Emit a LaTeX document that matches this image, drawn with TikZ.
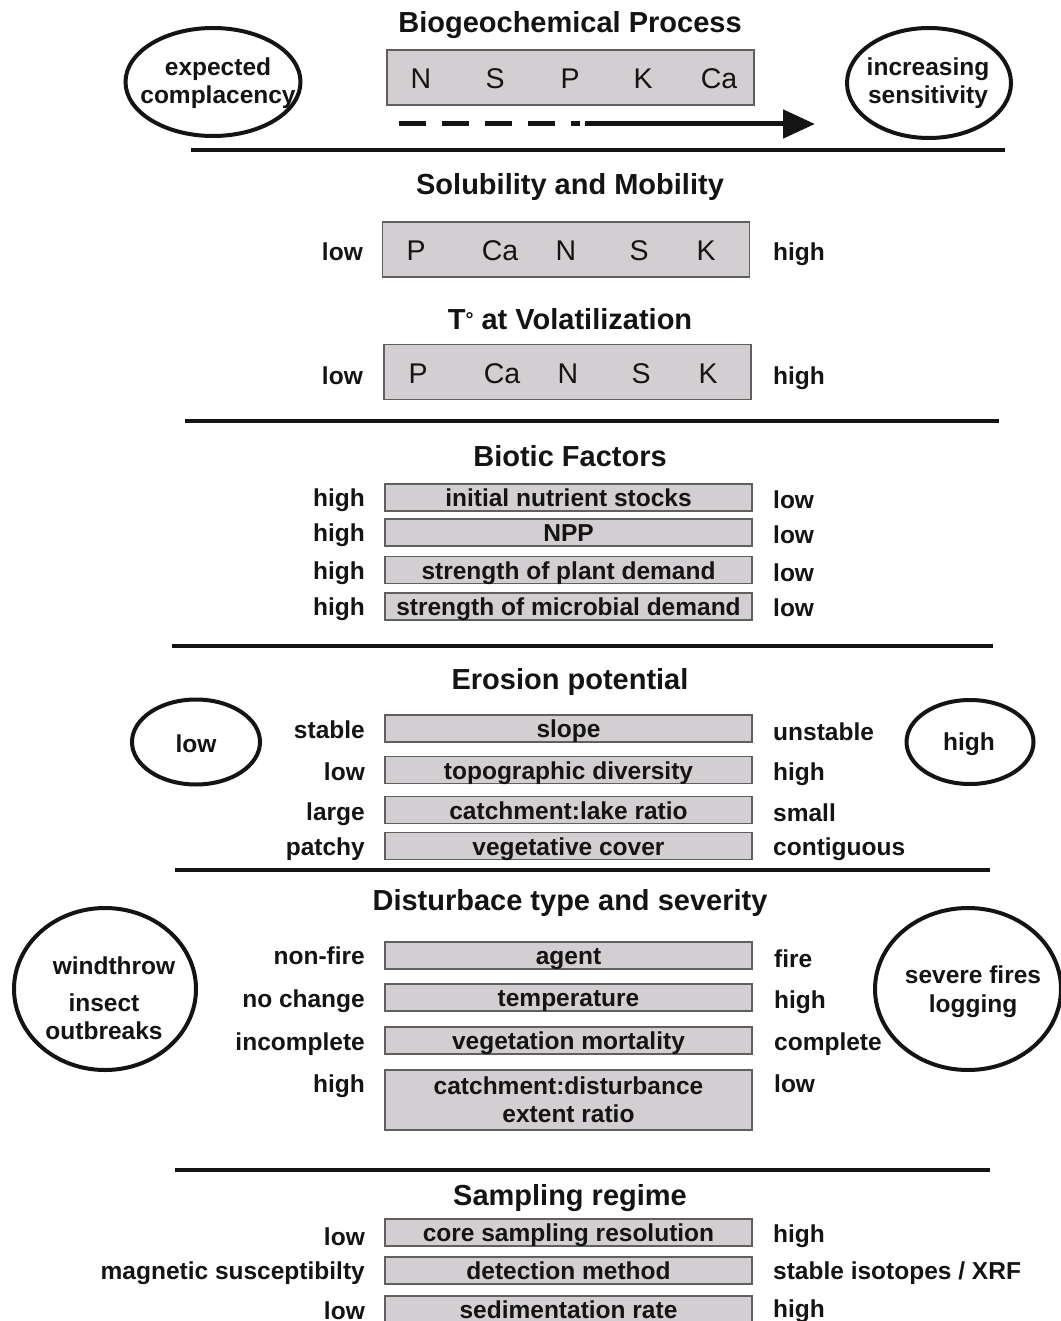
\documentclass[tikz,border=0pt]{standalone}
\usepackage{fontspec}
\setmainfont{Liberation Sans}
\usetikzlibrary{arrows.meta,shapes.geometric}
\definecolor{boxfill}{RGB}{211,206,209}
\definecolor{boxline}{RGB}{95,95,95}
\definecolor{ink}{RGB}{20,20,20}
\begin{document}
\begin{tikzpicture}[x=1pt,y=-1pt,
  lab/.style={font=\bfseries\fontsize{24.5}{29}\selectfont, inner sep=0pt, text height=22pt, text depth=4pt, text=ink},
  L/.style={lab, anchor=east},
  R/.style={lab, anchor=west},
  bar/.style={lab, draw=boxline, fill=boxfill, line width=1.3pt, minimum width=367pt, minimum height=27pt},
  bartwo/.style={font=\bfseries\fontsize{24.5}{28}\selectfont, inner sep=0pt, text=ink, align=center, draw=boxline, fill=boxfill, line width=1.3pt, minimum width=367pt, minimum height=60pt},
  elbox/.style={draw=boxline, fill=boxfill, line width=1.3pt, minimum width=367pt, minimum height=55pt, inner sep=0pt},
  elem/.style={font=\fontsize{28.5}{34}\selectfont, inner sep=0pt, text height=20.4pt, text depth=0pt, text=ink},
  ttl/.style={font=\bfseries\fontsize{29}{34}\selectfont, inner sep=0pt, anchor=base, text=ink},
  rule/.style={line width=4.5pt, draw=ink},
  oval/.style={draw=ink, ellipse, line width=4pt, inner sep=0pt},
  ovtext/.style={font=\bfseries\fontsize{24.5}{28}\selectfont, align=center, inner sep=0pt, text=ink}
]
\useasboundingbox[fill=white] (0,0) rectangle (1060,1321);

% ---------- Biogeochemical process ----------
\node[ttl] (t1) at (570,33) {Biogeochemical Process};
\node[elbox] (b1) at (570.5,77.5) {};
\node[elem] (b1n) at (421,78) {N};
\node[elem] (b1s) at (495,78) {S};
\node[elem] (b1p) at (570,78) {P};
\node[elem] (b1k) at (643,78) {K};
\node[elem] (b1c) at (719,78) {Ca};
\coordinate (ds) at (399,124);
\coordinate (de) at (580,124);
\coordinate (as) at (585,124);
\coordinate (ae) at (815,124);
\draw[line width=5pt, draw=ink, dash pattern=on 27pt off 16pt] (ds) -- (de);
\draw[line width=5pt, draw=ink, -{Triangle[length=32pt,width=28pt]}] (as) -- (ae);
\node[oval, minimum width=175pt, minimum height=108pt] (e1) at (213,82) {};
\node[ovtext] (e1t) at (218,83) {expected\\complacency};
\node[oval, minimum width=164pt, minimum height=110pt] (e2) at (929,83) {};
\node[ovtext] (e2t) at (928,83) {increasing\\sensitivity};
\draw[rule] (191,150) -- (1005,150);

% ---------- Solubility ----------
\node[ttl] (t2) at (570,195) {Solubility and Mobility};
\node[elbox] (b2) at (566,249.5) {};
\node[elem] (b2p) at (416,250) {P};
\node[elem] (b2c) at (500,250) {Ca};
\node[elem] (b2n) at (566,250) {N};
\node[elem] (b2s) at (639,250) {S};
\node[elem] (b2k) at (706,250) {K};
\node[L] (b2l) at (363,252) {low};
\node[R] (b2r) at (773,252) {high};

\node[ttl] (t3) at (570,329) {T\raisebox{0.1em}{\fontsize{20}{20}\selectfont°} at Volatilization};
\node[elbox] (b3) at (567.5,372) {};
\node[elem] (b3p) at (418,373) {P};
\node[elem] (b3c) at (502,373) {Ca};
\node[elem] (b3n) at (568,373) {N};
\node[elem] (b3s) at (641,373) {S};
\node[elem] (b3k) at (708,373) {K};
\node[L] (b3l) at (363,375) {low};
\node[R] (b3r) at (773,375) {high};
\draw[rule] (185,421) -- (999,421);

% ---------- Biotic ----------
\node[ttl] (t4) at (570,466) {Biotic Factors};
\node[bar] (f1) at (568.5,497.5) {initial nutrient stocks};
\node[bar] (f2) at (568.5,532.5) {NPP};
\node[bar] (f3) at (568.5,570) {strength of plant demand};
\node[bar] (f4) at (568.5,606.5) {strength of microbial demand};
\node[L] at (365,497) {high};
\node[L] at (365,532) {high};
\node[L] at (365,570) {high};
\node[L] at (365,606) {high};
\node[R] at (773,499) {low};
\node[R] at (773,534) {low};
\node[R] at (773,572) {low};
\node[R] at (773,607) {low};
\draw[rule] (172,646) -- (993,646);

% ---------- Erosion ----------
\node[ttl] (t5) at (570,689) {Erosion potential};
\node[bar] (g1) at (568.5,728.5) {slope};
\node[bar] (g2) at (568.5,770) {topographic diversity};
\node[bar] (g3) at (568.5,810) {catchment:lake ratio};
\node[bar] (g4) at (568.5,846) {vegetative cover};
\node[L] at (365,729) {stable};
\node[L] at (365,771) {low};
\node[L] at (365,811) {large};
\node[L] at (365,846) {patchy};
\node[R] at (773,731) {unstable};
\node[R] at (773,771) {high};
\node[R] at (773,812) {small};
\node[R] at (773,846) {contiguous};
\node[oval, minimum width=128pt, minimum height=85pt] (e3) at (196,742) {};
\node[lab] (e3t) at (196,743) {low};
\node[oval, minimum width=127pt, minimum height=84pt] (e4) at (970,742) {};
\node[lab] (e4t) at (969,741) {high};
\draw[rule] (175,870) -- (990,870);

% ---------- Disturbance ----------
\node[ttl] (t6) at (570,910) {Disturbace type and severity};
\node[bar] (h1) at (568.5,955.5) {agent};
\node[bar] (h2) at (568.5,997.5) {temperature};
\node[bar] (h3) at (568.5,1040.5) {vegetation mortality};
\node[bartwo] (h4) at (568.5,1100) {catchment:disturbance\\extent ratio};
\node[L] at (365,955) {non-fire};
\node[L] at (365,998) {no change};
\node[L] at (365,1041) {incomplete};
\node[L] at (365,1083) {high};
\node[R] at (774,958) {fire};
\node[R] at (774,999) {high};
\node[R] at (774,1041) {complete};
\node[R] at (774,1083) {low};
\node[oval, minimum width=182pt, minimum height=162pt] (e5) at (105,989) {};
\node[ovtext] (e5a) at (114,966) {windthrow};
\node[ovtext] (e5b) at (104,1017) {insect\\outbreaks};
\node[oval, minimum width=186pt, minimum height=162pt] (e6) at (968,989) {};
\node[ovtext, font=\bfseries\fontsize{24.5}{29}\selectfont] (e6t) at (973,992) {severe fires\\logging};
\draw[rule] (175,1170) -- (990,1170);

% ---------- Sampling ----------
\node[ttl] (t7) at (570,1205) {Sampling regime};
\node[bar] (s1) at (568.5,1232.5) {core sampling resolution};
\node[bar] (s2) at (568.5,1270.5) {detection method};
\node[bar] (s3) at (568.5,1309.5) {sedimentation rate};
\node[L] at (365,1236) {low};
\node[L] at (365,1270) {magnetic susceptibilty};
\node[L] at (365,1310) {low};
\node[R] at (773,1233) {high};
\node[R] at (773,1270) {stable isotopes / XRF};
\node[R] at (773,1308) {high};
\end{tikzpicture}
\end{document}
